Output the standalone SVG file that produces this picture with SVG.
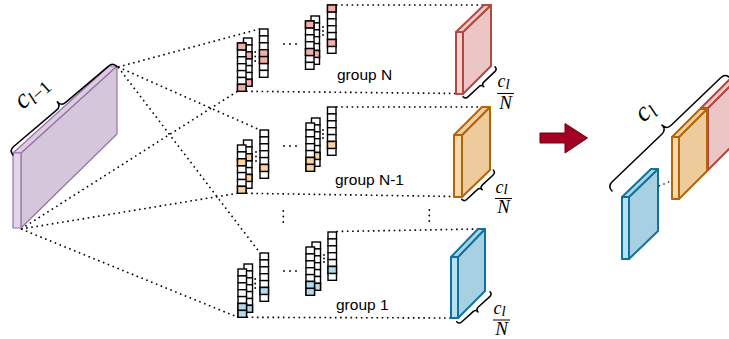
<svg xmlns="http://www.w3.org/2000/svg" width="729" height="339" viewBox="0 0 729 339">
<defs>
<style>
.dot{fill:none;stroke:#000;stroke-width:1.6;stroke-dasharray:1.6 3.6}
.br{fill:none;stroke:#000;stroke-width:1.5;stroke-linecap:round;stroke-linejoin:round}
.cell{fill:#fff;stroke:#000;stroke-width:1.4}
.pk{fill:#f2aeaa;stroke:#000;stroke-width:1.4}
.or{fill:#f9d3a4;stroke:#000;stroke-width:1.4}
.bl{fill:#b3dbee;stroke:#000;stroke-width:1.4}
.lbl{font-family:"Liberation Sans",Arial,sans-serif;font-size:15.5px;fill:#000}
.m{font-family:"Liberation Serif","Times New Roman",serif;font-style:italic;fill:#000}
.up{font-style:normal}
.sd{fill:#000}
.fl{stroke:#000;stroke-width:1}
.sR{stroke:#b4473f;stroke-width:2;stroke-linejoin:round}
.sO{stroke:#b46504;stroke-width:2;stroke-linejoin:round}
.sB{stroke:#10739e;stroke-width:2;stroke-linejoin:round}
.sP{stroke:#9673a6;stroke-width:1.2;stroke-linejoin:round}
</style>
<g id="col">
<rect class="cell" x="0" y="0" width="8.5" height="6.9"/>
<rect class="cell" x="0" y="6.9" width="8.5" height="6.9"/>
<rect class="cell" x="0" y="13.8" width="8.5" height="6.9"/>
<rect class="cell" x="0" y="20.7" width="8.5" height="6.9"/>
<rect class="cell" x="0" y="27.6" width="8.5" height="6.9"/>
<rect class="cell" x="0" y="34.5" width="8.5" height="6.9"/>
<rect class="cell" x="0" y="41.4" width="8.5" height="6.9"/>
</g>
</defs>
<rect width="729" height="339" fill="#fff"/>

<!-- connectors -->
<g id="connectors">
<line class="dot" x1="118" y1="67" x2="259.5" y2="29"/>
<line class="dot" x1="118" y1="67" x2="260" y2="130"/>
<line class="dot" x1="118" y1="67" x2="260" y2="253"/>
<line class="dot" x1="21" y1="229" x2="237.5" y2="91.3"/>
<line class="dot" x1="21" y1="229" x2="237.5" y2="193.3"/>
<line class="dot" x1="21" y1="229" x2="238" y2="317.3"/>
<line class="dot" x1="246" y1="91.3" x2="456" y2="93.5"/>
<line class="dot" x1="246" y1="193.3" x2="454" y2="196.5"/>
<line class="dot" x1="246.5" y1="317.3" x2="451" y2="318"/>
<line class="dot" x1="336" y1="5" x2="484" y2="5"/>
<line class="dot" x1="336" y1="107" x2="482" y2="107"/>
<line class="dot" x1="336.5" y1="231.5" x2="478" y2="229"/>
</g>

<!-- input slab -->
<g id="input-slab">
<polygon class="sP" fill="#d5c6dc" points="21,153 117,66 117,134 21,228"/>
<polygon class="sP" fill="#dccde2" points="13,153 109,66 117,66 21,153"/>
<polygon class="sP" fill="#e2d5e8" points="13,153 21,153 21,228 13,228"/>
<path class="br" transform="translate(13,155) rotate(-40.3)" d="M0,0 Q0,-6 6,-6 L62.2,-6 Q68.2,-6 68.2,-12 Q68.2,-6 74.2,-6 L130.4,-6 Q136.4,-6 136.4,0"/>
<text class="m" transform="translate(23,110) rotate(-42)"><tspan font-size="27">c</tspan><tspan font-size="18" dy="4">l</tspan><tspan class="up" font-size="18">−1</tspan></text>
</g>

<!-- group N -->
<g id="group-N">
<g transform="translate(243.5,38)"><use href="#col"/><rect class="pk" y="13.8" width="8.5" height="6.9"/><rect class="pk" y="41.4" width="8.5" height="6.9"/></g>
<g transform="translate(237.5,43)"><use href="#col"/><rect class="pk" y="0" width="8.5" height="6.9"/><rect class="pk" y="41.4" width="8.5" height="6.9"/></g>
<g transform="translate(259.5,29)"><use href="#col"/><rect class="pk" y="20.7" width="8.5" height="6.9"/><rect class="pk" y="27.6" width="8.5" height="6.9"/></g>
<circle class="sd" cx="255.2" cy="52" r="0.9"/><circle class="sd" cx="255.2" cy="56.5" r="0.9"/><circle class="sd" cx="255.2" cy="61" r="0.9"/>
<circle class="sd" cx="284" cy="44" r="0.9"/><circle class="sd" cx="290" cy="44" r="0.9"/><circle class="sd" cx="296" cy="44" r="0.9"/>
<g transform="translate(311,16)"><use href="#col"/><rect class="pk" y="34.5" width="8.5" height="6.9"/></g>
<g transform="translate(305.5,21)"><use href="#col"/><rect class="pk" y="0" width="8.5" height="6.9"/><rect class="pk" y="27.6" width="8.5" height="6.9"/></g>
<g transform="translate(327.5,5)"><use href="#col"/><rect class="pk" y="0" width="8.5" height="6.9"/><rect class="pk" y="34.5" width="8.5" height="6.9"/></g>
<circle class="sd" cx="323" cy="27" r="0.9"/><circle class="sd" cx="323" cy="31" r="0.9"/><circle class="sd" cx="323" cy="35" r="0.9"/>
<text class="lbl" x="337" y="80">group N</text>
</g>

<!-- group N-1 -->
<g id="group-N-1">
<g transform="translate(243.5,140)"><use href="#col"/><rect class="or" y="13.8" width="8.5" height="6.9"/><rect class="or" y="34.5" width="8.5" height="6.9"/></g>
<g transform="translate(237.5,145)"><use href="#col"/><rect class="or" y="13.8" width="8.5" height="6.9"/><rect class="or" y="41.4" width="8.5" height="6.9"/></g>
<g transform="translate(260,130)"><use href="#col"/><rect class="or" y="34.5" width="8.5" height="6.9"/></g>
<circle class="sd" cx="256" cy="152" r="0.9"/><circle class="sd" cx="256" cy="156.5" r="0.9"/><circle class="sd" cx="256" cy="161" r="0.9"/>
<circle class="sd" cx="284" cy="146" r="0.9"/><circle class="sd" cx="290" cy="146" r="0.9"/><circle class="sd" cx="296" cy="146" r="0.9"/>
<g transform="translate(311.5,118)"><use href="#col"/><rect class="or" y="34.5" width="8.5" height="6.9"/></g>
<g transform="translate(306,123)"><use href="#col"/><rect class="or" y="34.5" width="8.5" height="6.9"/><rect class="or" y="41.4" width="8.5" height="6.9"/></g>
<g transform="translate(327.5,107)"><use href="#col"/><rect class="or" y="34.5" width="8.5" height="6.9"/></g>
<circle class="sd" cx="323" cy="130" r="0.9"/><circle class="sd" cx="323" cy="134" r="0.9"/><circle class="sd" cx="323" cy="138" r="0.9"/>
<text class="lbl" x="335" y="185">group N-1</text>
</g>

<!-- vertical ellipses -->
<g id="ellipsis">
<circle class="sd" cx="283.3" cy="211" r="0.9"/><circle class="sd" cx="283.3" cy="216.5" r="0.9"/><circle class="sd" cx="283.3" cy="222" r="0.9"/>
<circle class="sd" cx="429.3" cy="210" r="0.9"/><circle class="sd" cx="429.3" cy="215.5" r="0.9"/><circle class="sd" cx="429.3" cy="221" r="0.9"/>
</g>

<!-- group 1 -->
<g id="group-1">
<g transform="translate(244,264)"><use href="#col"/><rect class="bl" y="41.4" width="8.5" height="6.9"/></g>
<g transform="translate(238,269)"><use href="#col"/><rect class="bl" y="34.5" width="8.5" height="6.9"/><rect class="bl" y="41.4" width="8.5" height="6.9"/></g>
<g transform="translate(260,253)"><use href="#col"/><rect class="bl" y="34.5" width="8.5" height="6.9"/></g>
<circle class="sd" cx="255.2" cy="279" r="0.9"/><circle class="sd" cx="255.2" cy="283.5" r="0.9"/><circle class="sd" cx="255.2" cy="288" r="0.9"/>
<circle class="sd" cx="284" cy="271" r="0.9"/><circle class="sd" cx="290" cy="271" r="0.9"/><circle class="sd" cx="296" cy="271" r="0.9"/>
<g transform="translate(312,242)"><use href="#col"/><rect class="bl" y="41.4" width="8.5" height="6.9"/></g>
<g transform="translate(306,247)"><use href="#col"/><rect class="bl" y="34.5" width="8.5" height="6.9"/><rect class="bl" y="41.4" width="8.5" height="6.9"/></g>
<g transform="translate(328,232)"><use href="#col"/><rect class="bl" y="34.5" width="8.5" height="6.9"/></g>
<circle class="sd" cx="324" cy="255" r="0.9"/><circle class="sd" cx="324" cy="258.5" r="0.9"/><circle class="sd" cx="324" cy="262" r="0.9"/>
<text class="lbl" x="336" y="310">group 1</text>
</g>

<!-- output slab N -->
<g id="slab-N">
<polygon class="sR" fill="#ebc6c4" points="463,32 491,5 491,66 463,94"/>
<polygon class="sR" fill="#efcac7" points="456,32 484,5 491,5 463,32"/>
<polygon class="sR" fill="#f6d3d0" points="456,32 463,32 463,94 456,94"/>
<path class="br" transform="translate(495,66.7) rotate(136.8)" d="M0,0 Q0,-3.5 3.5,-3.5 L18.45,-3.5 Q21.95,-3.5 21.95,-7 Q21.95,-3.5 25.45,-3.5 L40.4,-3.5 Q43.9,-3.5 43.9,0"/>
<text class="m" x="497.5" y="87" font-size="18">c<tspan font-size="15" dy="1.5">l</tspan></text>
<line class="fl" x1="497" y1="93.5" x2="514" y2="93.5"/>
<text class="m" x="505.5" y="108.5" font-size="19" text-anchor="middle">N</text>
</g>

<!-- output slab N-1 -->
<g id="slab-N-1">
<polygon class="sO" fill="#eecb9d" points="462,135 490,107 490,170 462,197"/>
<polygon class="sO" fill="#f2cfa2" points="454,135 482,107 490,107 462,135"/>
<polygon class="sO" fill="#f8d7ae" points="454,135 462,135 462,197 454,197"/>
<path class="br" transform="translate(493.3,170) rotate(137.2)" d="M0,0 Q0,-3.5 3.5,-3.5 L18.05,-3.5 Q21.55,-3.5 21.55,-7 Q21.55,-3.5 25.050,-3.5 L39.6,-3.5 Q43.1,-3.5 43.1,0"/>
<text class="m" x="495.5" y="192.5" font-size="18">c<tspan font-size="15" dy="1.5">l</tspan></text>
<line class="fl" x1="495" y1="198.5" x2="512" y2="198.5"/>
<text class="m" x="503.5" y="213" font-size="19" text-anchor="middle">N</text>
</g>

<!-- output slab 1 -->
<g id="slab-1">
<polygon class="sB" fill="#a7d0e3" points="458,257 485,229 485,291 458,318"/>
<polygon class="sB" fill="#acd5e8" points="451,257 478,229 485,229 458,257"/>
<polygon class="sB" fill="#b8e0f1" points="451,257 458,257 458,318 451,318"/>
<path class="br" transform="translate(490,291.7) rotate(138)" d="M0,0 Q0,-3.5 3.5,-3.5 L18.9,-3.5 Q22.4,-3.5 22.4,-7 Q22.4,-3.5 25.9,-3.5 L41.3,-3.5 Q44.8,-3.5 44.8,0"/>
<text class="m" x="493.5" y="314" font-size="18">c<tspan font-size="15" dy="1.5">l</tspan></text>
<line class="fl" x1="493" y1="320" x2="510" y2="320"/>
<text class="m" x="501.5" y="334.5" font-size="19" text-anchor="middle">N</text>
</g>

<!-- arrow -->
<g id="arrow">
<polygon fill="#a20025" stroke="#6f0000" stroke-width="1" stroke-linejoin="round" points="540,133 565,133 565,123.5 587.5,138 565,153 565,143 540,143"/>
</g>

<!-- concatenated output -->
<g id="output-stack">
<polygon class="sR" fill="#ebc6c4" points="708,108 737,79 737,141 708,170"/>
<polygon class="sR" fill="#efcac7" points="701,108 730,79 737,79 708,108"/>
<polygon class="sR" fill="#f6d3d0" points="701,108 708,108 708,170 701,170"/>
<polygon class="sO" fill="#eecb9d" points="679,137 707,109 707,171 679,199"/>
<polygon class="sO" fill="#f2cfa2" points="672,137 700,109 707,109 679,137"/>
<polygon class="sO" fill="#f8d7ae" points="672,137 679,137 679,199 672,199"/>
<polygon class="sB" fill="#a7d0e3" points="629,197 658,169 658,231 629,259"/>
<polygon class="sB" fill="#acd5e8" points="622,197 651,169 658,169 629,197"/>
<polygon class="sB" fill="#b8e0f1" points="622,197 629,197 629,259 622,259"/>
<circle class="sd" cx="659.5" cy="185.7" r="0.8"/><circle class="sd" cx="664" cy="184" r="0.8"/><circle class="sd" cx="668.5" cy="182" r="0.8"/>
<path class="br" transform="translate(612,191) rotate(-43.8)" d="M0,0 Q0,-6.5 6.5,-6.5 L75.2,-6.5 Q81.7,-6.5 81.7,-13 Q81.7,-6.5 88.2,-6.5 L156.9,-6.5 Q163.4,-6.5 163.4,0"/>
<text class="m" transform="translate(644,123) rotate(-44)"><tspan font-size="27">c</tspan><tspan font-size="19" dy="4">l</tspan></text>
</g>
</svg>
